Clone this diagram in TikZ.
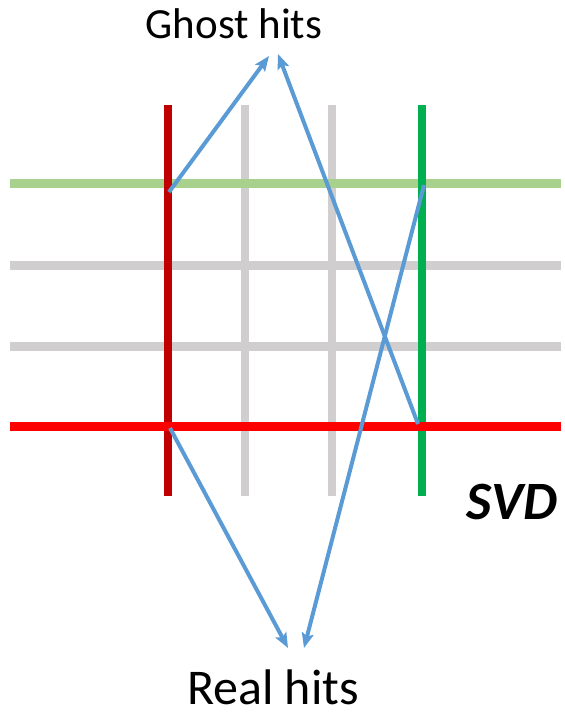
\documentclass[tikz,border=0pt]{standalone}
\usepackage{fontspec}
\setmainfont{Carlito}
\usetikzlibrary{arrows.meta}
\definecolor{darkred}{HTML}{C00000}
\definecolor{lgray}{HTML}{D0CECE}
\definecolor{sgreen}{HTML}{00B050}
\definecolor{lgreen}{HTML}{A9D18E}
\definecolor{pred}{HTML}{FF0000}
\definecolor{blu}{HTML}{5B9BD5}
\tikzset{
  vline/.style={line width=8pt},
  hline/.style={line width=9pt},
  hitarrow/.style={blu, line width=4pt, -{Stealth[length=15pt,width=12pt,inset=3pt]}},
  lbl/.style={inner sep=0pt, anchor=base, text=black}
}
\begin{document}
\begin{tikzpicture}[x=1pt,y=-1pt]
\useasboundingbox (0,0) rectangle (565,715);
% verticals
\draw[vline, lgray] (245,105) -- (245,496);
\draw[vline, lgray] (332,105) -- (332,496);
% horizontals
\draw[hline, lgreen] (10,183) -- (561,183);
\draw[hline, lgray] (10,265) -- (561,265);
\draw[hline, lgray] (10,346) -- (561,346);
\draw[vline, darkred] (168,105) -- (168,496);
\draw[vline, sgreen] (422,105) -- (422,496);
\draw[hline, pred] (10,426) -- (561,426);
% labels
\node[lbl, font=\fontsize{43}{43}\selectfont] (ghost) at (234,38) {Ghost hits};
\node[lbl, font=\fontsize{50}{50}\selectfont] (real) at (273,704) {Real hits};
\node[lbl, font=\fontsize{54}{54}\selectfont\bfseries\itshape] (svd) at (512,519) {SVD};
% hit points
\coordinate (g1) at (169,192);
\coordinate (g2) at (418,424);
\coordinate (r1) at (170,428);
\coordinate (r2) at (424,185);
\coordinate (gt1) at (269,56);
\coordinate (gt2) at (278,54);
\coordinate (rt1) at (288,648);
\coordinate (rt2) at (304,648);
\draw[hitarrow] (g1) -- (gt1);
\draw[hitarrow] (g2) -- (gt2);
\draw[hitarrow] (r1) -- (rt1);
\draw[hitarrow] (r2) -- (rt2);
\end{tikzpicture}
\end{document}
